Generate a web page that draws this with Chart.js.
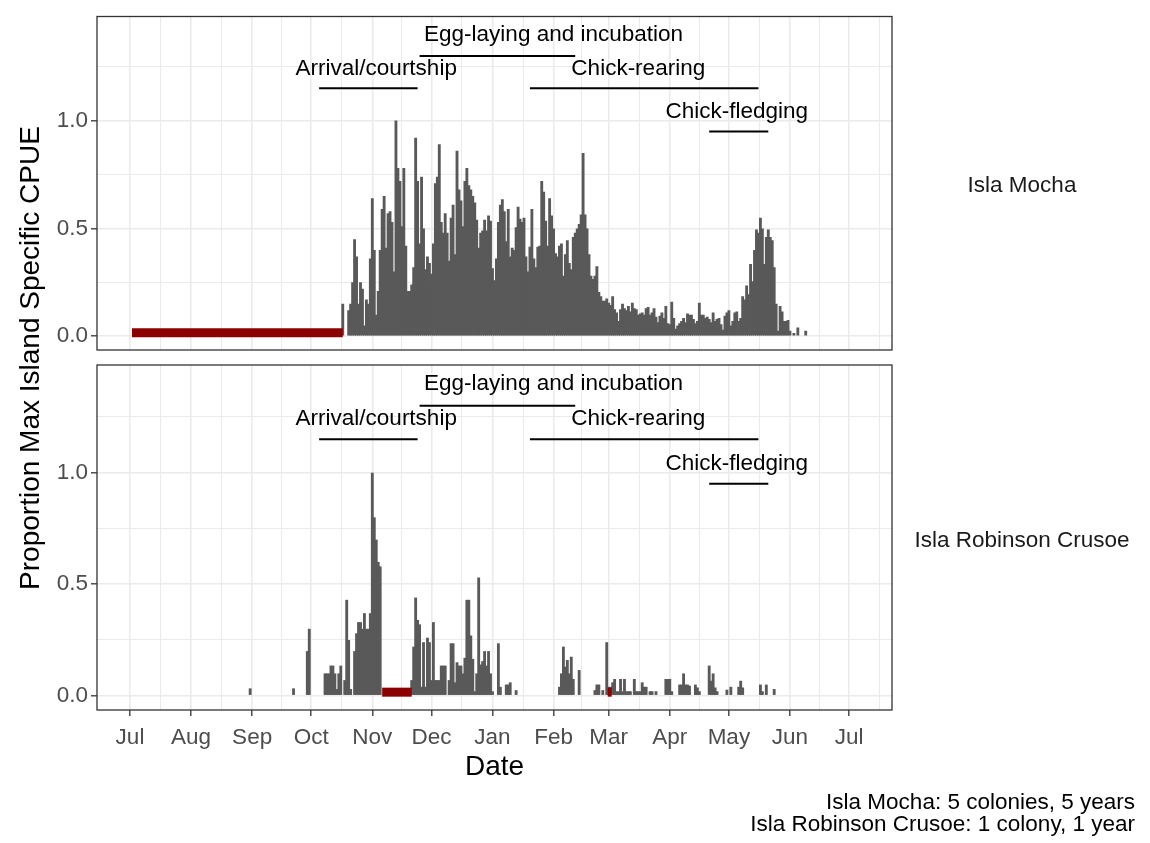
<!DOCTYPE html>
<html>
<head>
<meta charset="utf-8">
<title>Proportion Max Island Specific CPUE</title>
<script src="https://cdn.jsdelivr.net/npm/chart.js@4.4.0/dist/chart.umd.min.js"></script>
<style>
  body { margin: 0; background: #ffffff; }
  #wrap { position: relative; width: 1150px; height: 843px; }
  #wrap canvas { position: absolute; left: 0; top: 0; }
</style>
</head>
<body>
<div id="wrap">
  <canvas id="mochaPanel" width="1150" height="843"></canvas>
  <canvas id="crusoePanel" width="1150" height="843"></canvas>
</div>
<script>
// ---------- data (days are counted from 1 July) ----------
const monthLabels = ['Jul', 'Aug', 'Sep', 'Oct', 'Nov', 'Dec', 'Jan', 'Feb', 'Mar', 'Apr', 'May', 'Jun', 'Jul'];
const monthStartDays = [0, 31, 62, 92, 123, 153, 184, 215, 243, 274, 304, 335, 365];
const yTickValues = [0, 0.5, 1.0];
const yTickLabels = ['0.0', '0.5', '1.0'];

const phaseNames = ['Arrival/courtship', 'Egg-laying and incubation', 'Chick-rearing', 'Chick-fledging'];
const phaseStartDays = [96, 147, 203, 294];
const phaseEndDays = [146, 226, 319, 324];
const phaseLineLevels = [1.15, 1.3, 1.15, 0.95];
const phaseLabelDays = [125, 215, 258, 308];
const phaseLabelLevels = [1.24, 1.40, 1.24, 1.04];

const islandNames = ['Isla Mocha', 'Isla Robinson Crusoe'];
const captionLines = ['Isla Mocha: 5 colonies, 5 years', 'Isla Robinson Crusoe: 1 colony, 1 year'];

// Isla Mocha: one value per day, first value is day 108
const mochaFirstDay = 108;
const mochaValues = [
  0.15, 0, 0, 0.12, 0.15, 0.25, 0.45, 0.37, 0.15, 0.25,            // 108
  0.22, 0.05, 0.17, 0.15, 0.36, 0.64, 0.40, 0.10, 0.21, 0.40,      // 118
  0.59, 0.65, 0.41, 0.57, 0.58, 0.53, 0.30, 1.00, 0.78, 0.72,      // 128
  0.51, 0.78, 0.42, 0.21, 0.21, 0.24, 0.32, 0.92, 0.72, 0.43,      // 138
  0.74, 0.50, 0.31, 0.37, 0.34, 0.29, 0.43, 0.71, 0.74, 0.89,      // 148
  0.53, 0.48, 0.57, 0.48, 0.35, 0.55, 0.61, 0.38, 0.86, 0.68,      // 158
  0.63, 0.51, 0.72, 0.78, 0.70, 0.68, 0.65, 0.62, 0.54, 0.41,      // 168
  0.48, 0.49, 0.54, 0.49, 0.56, 0.535, 0.315, 0.26, 0.36, 0.53,    // 178
  0.61, 0.635, 0.58, 0.44, 0.59, 0.37, 0.41, 0.40, 0.505, 0.60,    // 188
  0.545, 0.53, 0.55, 0.37, 0.30, 0.415, 0.59, 0.36, 0.32, 0.415,   // 198
  0.42, 0.72, 0.67, 0.535, 0.42, 0.64, 0.56, 0.50, 0.385, 0.37,    // 208
  0.42, 0.43, 0.28, 0.38, 0.445, 0.34, 0.31, 0.46, 0.48, 0.50,     // 218
  0.52, 0.565, 0.85, 0.565, 0.50, 0.38, 0.28, 0.265, 0.28, 0.325,  // 228
  0.205, 0.185, 0.165, 0.165, 0.175, 0.155, 0.145, 0.185, 0.125, 0.11, // 238
  0.07, 0.125, 0.15, 0.13, 0.12, 0.14, 0.115, 0.155, 0.13, 0.125, // 248
  0.10, 0.105, 0.11, 0.10, 0.13, 0.135, 0.10, 0.11, 0.13, 0.09,    // 258
  0.065, 0.095, 0.11, 0.085, 0.14, 0.06, 0.055, 0.16, 0.085, 0.035, // 268
  0.05, 0.06, 0.07, 0.085, 0.065, 0.105, 0.10, 0.10, 0.08, 0.06,   // 278
  0.07, 0.155, 0.10, 0.10, 0.085, 0.09, 0.08, 0.065, 0.11, 0.07,   // 288
  0.08, 0.085, 0.055, 0.03, 0.095, 0.11, 0.12, 0.05, 0.07, 0.11,   // 298
  0.115, 0.07, 0.085, 0.185, 0.17, 0.235, 0.195, 0.335, 0.255, 0.40, // 308
  0.495, 0.48, 0.55, 0.50, 0.335, 0.46, 0.495, 0.46, 0.445, 0.32,  // 318
  0.15, 0.025, 0.14, 0.115, 0.07, 0.07, 0.075, 0.025, 0, 0.015,    // 328
  0, 0.04, 0, 0, 0, 0.025                                          // 338
];
// periods with no sampling (drawn in red)
const mochaGapStart = [1];
const mochaGapEnd = [108];

// Isla Robinson Crusoe: only the days with a catch
const crusoeDays = [
  61, 83, 90, 91, 99, 100, 101, 102, 103, 104, 105, 106, 107,
  109, 110, 111, 112, 114, 115, 116, 117, 118, 119, 120, 121, 122, 123, 124, 125, 126, 127,
  143, 144, 145, 146, 147, 148, 149, 150, 151, 152, 153, 154, 155, 156, 157, 158, 159, 160,
  162, 163, 164, 165, 166, 167, 168, 169, 170, 171, 172, 173, 174, 175, 176, 177,
  178, 179, 180, 181, 182, 183, 184, 187, 188, 191, 192, 193, 196,
  218, 219, 220, 221, 222, 223, 224, 225, 228,
  236, 237, 238, 240, 242, 243, 244,
  245, 246, 247, 248, 249, 250, 251, 252, 253, 254, 256, 257, 258, 259, 260, 261, 262, 264, 265, 267,
  272, 273, 274, 275, 279, 280, 281, 282, 283, 284, 287, 288, 289,
  294, 295, 296, 297, 298, 303, 305, 309, 310, 311, 320, 321, 323, 327
];
const crusoeValues = [
  0.033, 0.033, 0.20, 0.30, 0.10, 0.10, 0.10, 0.135, 0.135, 0.10, 0.03, 0.10, 0.135,
  0.07, 0.43, 0.25, 0.03, 0.20, 0.28, 0.33, 0.33, 0.30, 0.37, 0.30, 0.30, 0.37, 1.00, 0.80, 0.70, 0.60, 0.58,
  0.07, 0.22, 0.44, 0.34, 0.32, 0.04, 0.24, 0.04, 0.26, 0.24, 0.07, 0.33, 0.07, 0.07, 0.07, 0.135, 0.135, 0.135,
  0.07, 0.235, 0.235, 0.06, 0.15, 0.135, 0.135, 0.10, 0.17, 0.43, 0.43, 0.27, 0.165, 0.02, 0.10, 0.53,
  0.14, 0.155, 0.20, 0.135, 0.20, 0.10, 0.02, 0.235, 0.04, 0.05, 0.05, 0.06, 0.025,
  0.04, 0.10, 0.22, 0.13, 0.16, 0.10, 0.175, 0.075, 0.115,
  0.025, 0.05, 0.05, 0.025, 0.24, 0.04, 0.04,
  0.06, 0.075, 0.02, 0.02, 0.075, 0.02, 0.075, 0.02, 0.02, 0.02, 0.075, 0.02, 0.02, 0.02, 0.06, 0.04, 0.04, 0.02, 0.02, 0.02,
  0.075, 0.075, 0.075, 0.02, 0.05, 0.05, 0.10, 0.05, 0.05, 0.045, 0.05, 0.037, 0.02,
  0.135, 0.067, 0.10, 0.037, 0.02, 0.027, 0.04, 0.04, 0.067, 0.037, 0.05, 0.02, 0.05, 0.03
];
const crusoeGapStart = [128, 242.5];
const crusoeGapEnd = [143, 244.5];

// ---------- look ----------
const FONT = '"Liberation Sans", Arial, Helvetica, sans-serif';
const BAR_GREY = '#595959';
const GAP_RED = '#8B0000';
const GRID_GREY = '#EBEBEB';
const FRAME_GREY = '#333333';
const X_MIN = -16.75, X_MAX = 386.8;
const Y_MIN = -0.064, Y_MAX = 1.483;
const GAP_LEVEL = 0.016;

Chart.defaults.font.family = FONT;

// ggplot style minor breaks sit half way between the major ones
const minorDays = monthStartDays.slice(1).map((d, i) => (d + monthStartDays[i]) / 2).concat([380.5]);
const yMinor = [0.25, 0.75, 1.25];

// frame, phase annotations and facet strip text for each panel
const panelDecor = {
    id: 'panelDecor',
    afterDatasetsDraw(chart, args, opts) {
        const { ctx, chartArea: area, scales: { x, y } } = chart;
        ctx.save();
        ctx.fillStyle = '#000000';
        ctx.font = `22.5px ${FONT}`;
        ctx.textAlign = 'center';
        ctx.textBaseline = 'middle';
        phaseNames.forEach((name, i) => {
            ctx.fillText(name, x.getPixelForValue(phaseLabelDays[i]), y.getPixelForValue(phaseLabelLevels[i]));
        });

        ctx.strokeStyle = FRAME_GREY;
        ctx.lineWidth = 1.3;
        ctx.strokeRect(area.left, area.top, area.right - area.left, area.bottom - area.top);

        ctx.fillStyle = '#1A1A1A';
        ctx.fillText(opts.strip, 1022, (area.top + area.bottom) / 2 + 3);
        ctx.restore();
    }
};

// axis title and caption, drawn once by the lower panel
const pageText = {
    id: 'pageText',
    afterDraw(chart) {
        const { ctx } = chart;
        ctx.save();
        ctx.fillStyle = '#000000';
        ctx.font = `28px ${FONT}`;
        ctx.textAlign = 'center';
        ctx.textBaseline = 'middle';
        ctx.fillText('Date', 494.5, 767);

        ctx.translate(31, 358);
        ctx.rotate(-Math.PI / 2);
        ctx.fillText('Proportion Max Island Specific CPUE', 0, 0);
        ctx.setTransform(1, 0, 0, 1, 0, 0);

        ctx.font = `22.5px ${FONT}`;
        ctx.textAlign = 'right';
        captionLines.forEach((line, i) => ctx.fillText(line, 1135, 803 + i * 22));
        ctx.restore();
    }
};

class IslandPanel {
    constructor(canvasId, cfg) {
        this.cfg = cfg;
        this.chart = new Chart(document.getElementById(canvasId), this.buildConfig());
    }

    buildDatasets() {
        const c = this.cfg;
        const bars = c.days.map((d, i) => ({ x: d, y: c.values[i] })).filter(p => p.y > 0);

        const sets = [{
            type: 'bar',
            data: bars,
            backgroundColor: BAR_GREY,
            borderWidth: 0,
            // wider than one day so neighbouring days overlap and read as one solid block
            barPercentage: 1.45,
            categoryPercentage: 1,
            inflateAmount: 0,
            order: 3
        }];

        c.gapStart.forEach((s, i) => {
            sets.push({
                type: 'line',
                data: [{ x: s, y: GAP_LEVEL }, { x: c.gapEnd[i], y: GAP_LEVEL }],
                borderColor: GAP_RED,
                borderWidth: 9,
                borderCapStyle: 'butt',
                pointRadius: 0,
                order: 2
            });
        });

        phaseNames.forEach((name, i) => {
            sets.push({
                type: 'line',
                label: name,
                data: [{ x: phaseStartDays[i], y: phaseLineLevels[i] }, { x: phaseEndDays[i], y: phaseLineLevels[i] }],
                borderColor: '#000000',
                borderWidth: 2,
                borderCapStyle: 'butt',
                pointRadius: 0,
                order: 1
            });
        });
        return sets;
    }

    buildConfig() {
        const c = this.cfg;
        return {
            type: 'bar',
            data: { datasets: this.buildDatasets() },
            options: {
                responsive: false,
                animation: false,
                events: [],
                layout: { autoPadding: false, padding: c.padding },
                plugins: {
                    legend: { display: false },
                    tooltip: { enabled: false },
                    panelDecor: { strip: c.strip }
                },
                scales: {
                    x: {
                        type: 'linear',
                        min: X_MIN,
                        max: X_MAX,
                        offset: false,
                        afterBuildTicks: s => {
                            s.ticks = monthStartDays.concat(minorDays).sort((a, b) => a - b).map(v => ({ value: v }));
                        },
                        afterFit: s => { s.height = c.xHeight; },
                        border: { display: false },
                        grid: {
                            offset: false,
                            color: GRID_GREY,
                            lineWidth: ctx => (ctx.tick && monthStartDays.includes(ctx.tick.value) ? 1.6 : 1),
                            drawTicks: c.showX,
                            tickLength: 6,
                            tickWidth: 1.3,
                            tickColor: ctx => (ctx.tick && monthStartDays.includes(ctx.tick.value) ? FRAME_GREY : 'rgba(0,0,0,0)')
                        },
                        ticks: {
                            display: c.showX,
                            autoSkip: false,
                            maxRotation: 0,
                            padding: 8,
                            color: '#4D4D4D',
                            font: { size: 22.5 },
                            callback: v => {
                                const i = monthStartDays.indexOf(v);
                                return i >= 0 ? monthLabels[i] : '';
                            }
                        }
                    },
                    y: {
                        min: Y_MIN,
                        max: Y_MAX,
                        afterBuildTicks: s => {
                            s.ticks = yTickValues.concat(yMinor).sort((a, b) => a - b).map(v => ({ value: v }));
                        },
                        afterFit: s => { s.width = 97; },
                        border: { display: false },
                        grid: {
                            color: GRID_GREY,
                            lineWidth: ctx => (ctx.tick && yTickValues.includes(ctx.tick.value) ? 1.6 : 1),
                            tickLength: 6,
                            tickWidth: 1.3,
                            tickColor: ctx => (ctx.tick && yTickValues.includes(ctx.tick.value) ? FRAME_GREY : 'rgba(0,0,0,0)')
                        },
                        ticks: {
                            autoSkip: false,
                            padding: 3,
                            color: '#4D4D4D',
                            font: { size: 22.5 },
                            callback: v => {
                                const i = yTickValues.indexOf(v);
                                return i >= 0 ? yTickLabels[i] : '';
                            }
                        }
                    }
                }
            },
            plugins: c.plugins
        };
    }
}

const mochaDays = mochaValues.map((v, i) => mochaFirstDay + i);

new IslandPanel('mochaPanel', {
    days: mochaDays,
    values: mochaValues,
    gapStart: mochaGapStart,
    gapEnd: mochaGapEnd,
    strip: islandNames[0],
    showX: false,
    xHeight: 8,
    padding: { top: 5, left: 0, right: 258, bottom: 843 - 350 - 8 },
    plugins: [panelDecor]
});

new IslandPanel('crusoePanel', {
    days: crusoeDays,
    values: crusoeValues,
    gapStart: crusoeGapStart,
    gapEnd: crusoeGapEnd,
    strip: islandNames[1],
    showX: true,
    xHeight: 60,
    padding: { top: 365, left: 0, right: 258, bottom: 843 - 710 - 60 },
    plugins: [panelDecor, pageText]
});
</script>
</body>
</html>
